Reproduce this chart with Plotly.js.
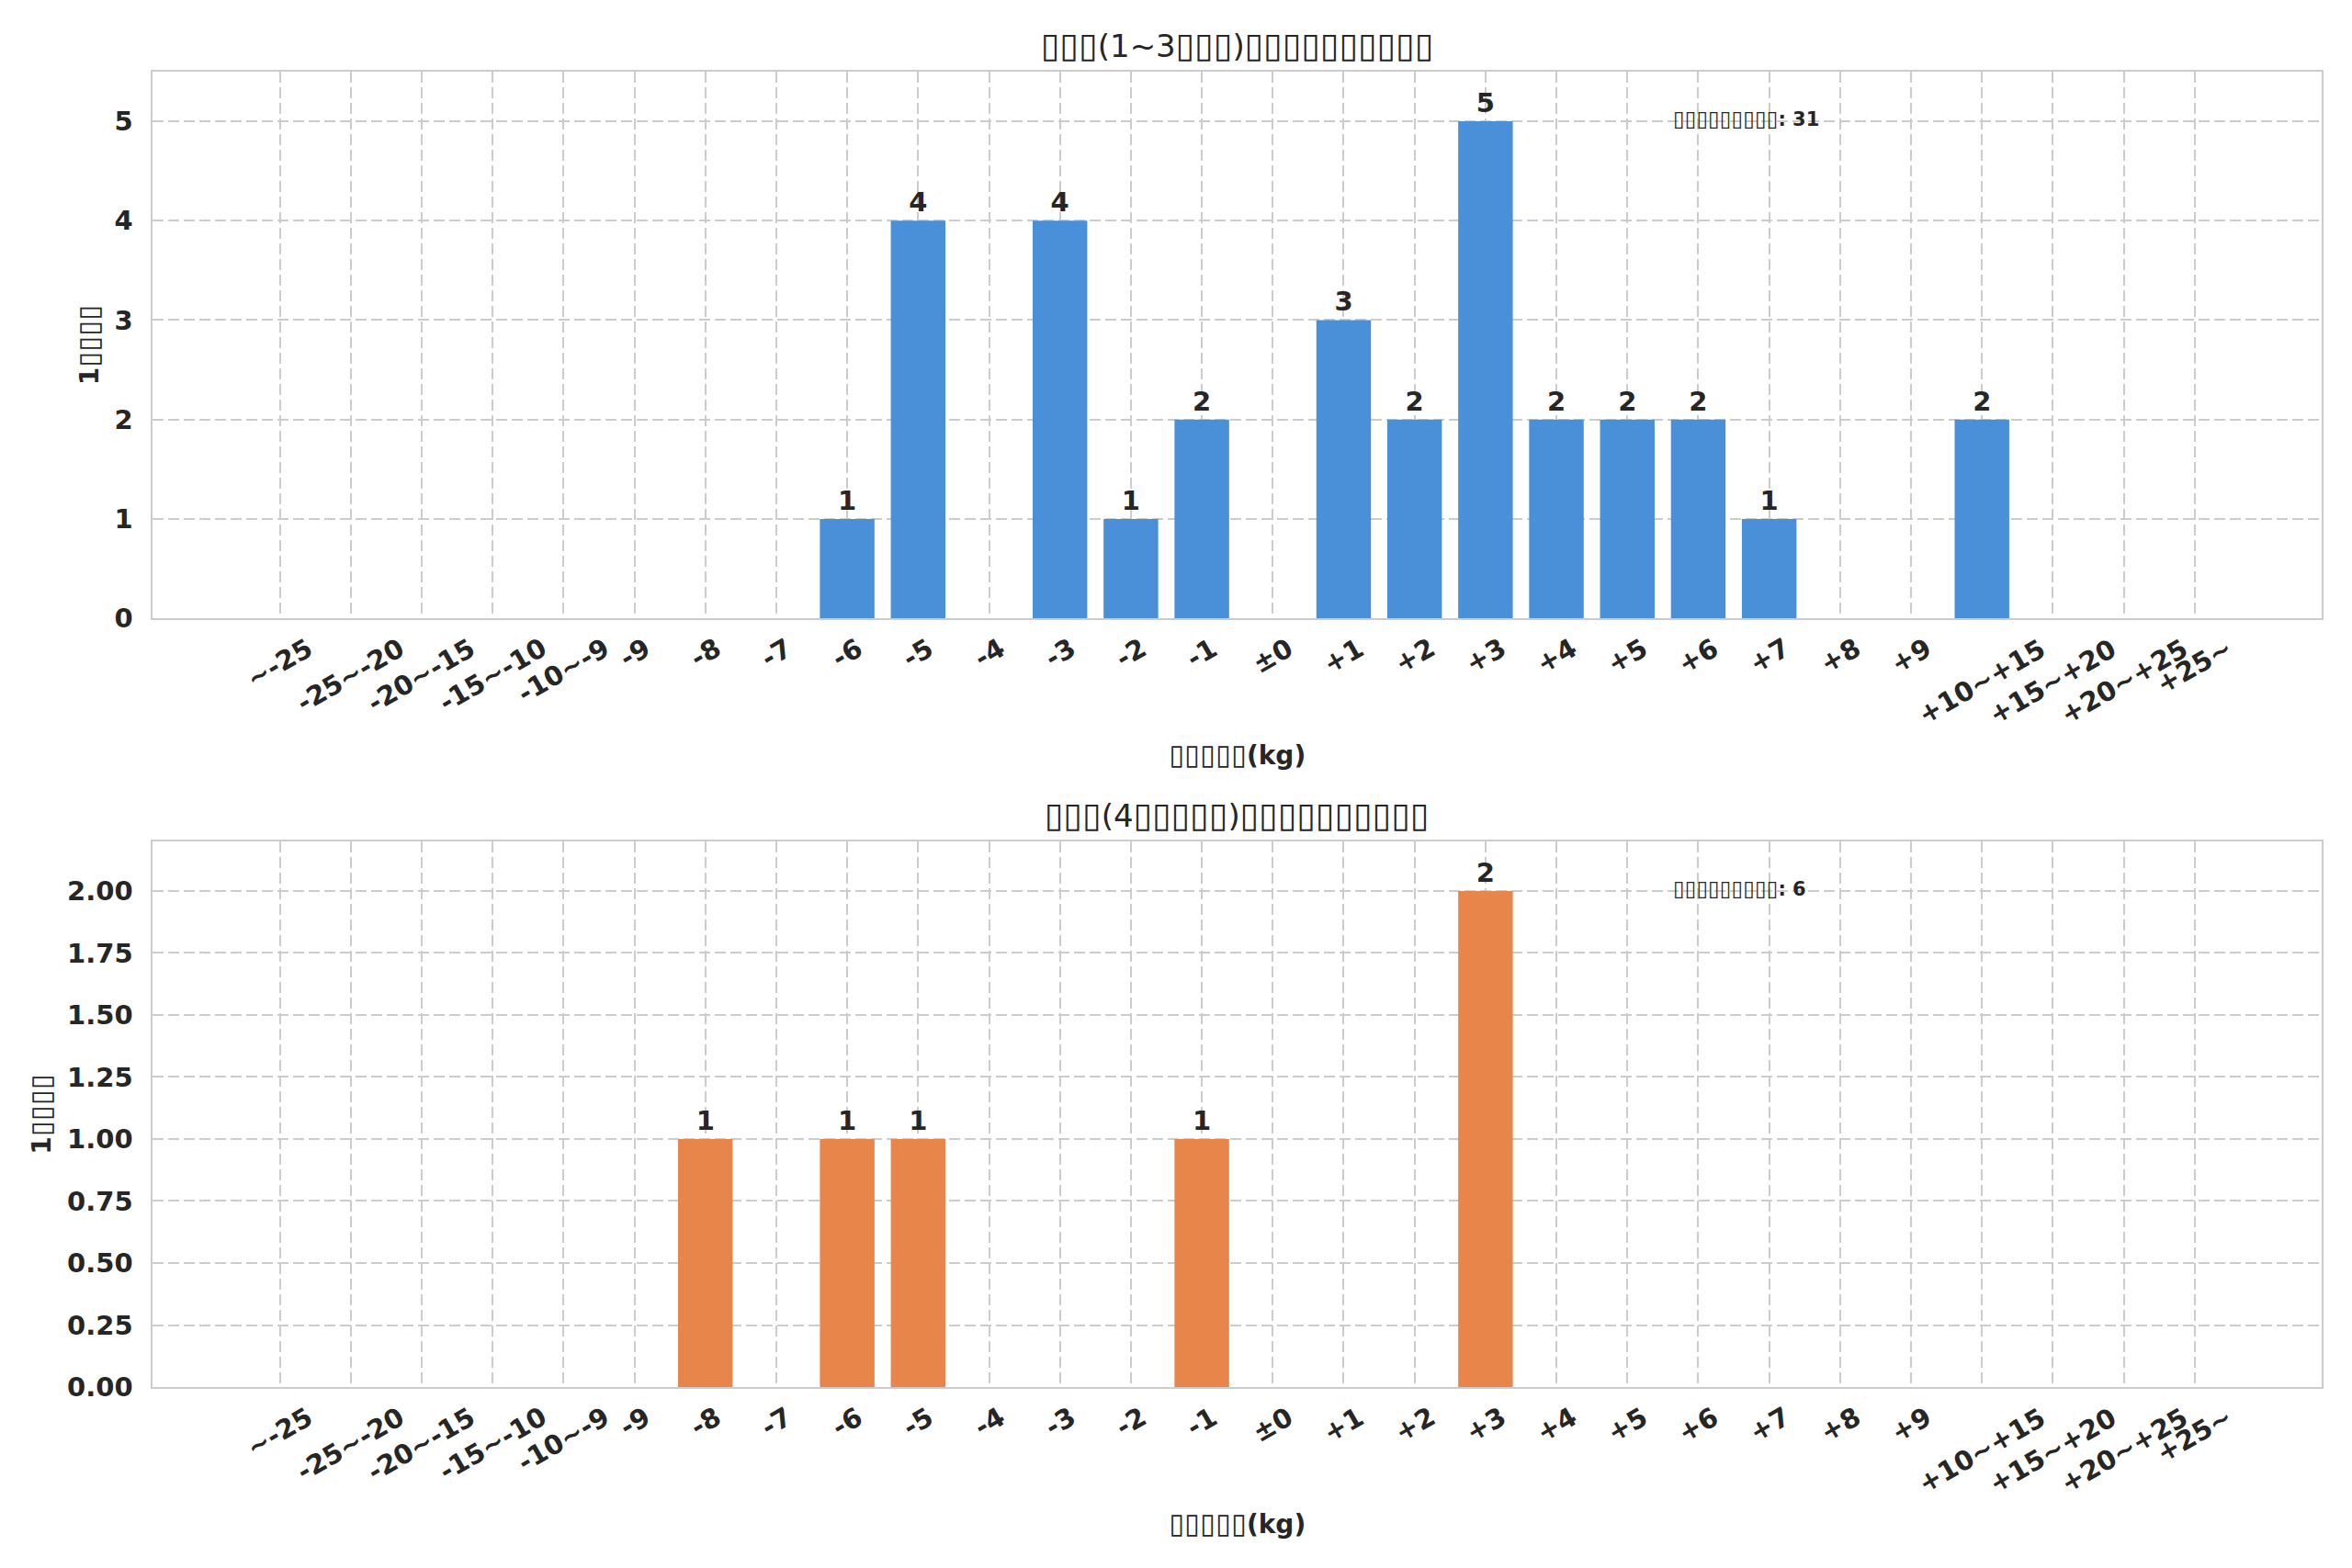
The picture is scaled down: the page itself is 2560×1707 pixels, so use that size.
<!DOCTYPE html>
<html>
<head>
<meta charset="utf-8">
<script src="https://cdn.plot.ly/plotly-3.0.1.min.js"></script>
<style>
  html, body { margin: 0; padding: 0; background: #fff; }
  #chart { width: 2560px; height: 1707px; }
</style>
</head>
<body>
<div id="chart"></div>
<script>
// weight change bins (kg)
const bins = [
    "~-25", "-25~-20", "-20~-15", "-15~-10", "-10~-9",
    "-9", "-8", "-7", "-6", "-5", "-4", "-3", "-2", "-1",
    "±0",
    "+1", "+2", "+3", "+4", "+5", "+6", "+7", "+8", "+9",
    "+10~+15", "+15~+20", "+20~+25", "+25~"
];

// counts per bin, upper panel (1~3) and lower panel (4...)
const countsEarly = [0, 0, 0, 0, 0, 0, 0, 0, 1, 4, 0, 4, 1, 2, 0, 3, 2, 5, 2, 2, 2, 1, 0, 0, 2, 0, 0, 0];
const countsLate  = [0, 0, 0, 0, 0, 0, 1, 0, 1, 1, 0, 0, 0, 1, 0, 0, 0, 2, 0, 0, 0, 0, 0, 0, 0, 0, 0, 0];

// the original labels are missing glyphs, drawn as boxes (n = number of boxes)
const box = n => '<span style="font-family:\'DejaVu Sans\';font-weight:normal;font-size:1.1em">' + "▯".repeat(n) + "</span>";
const titleEarly = box(3) + "(1~3" + box(3) + ")" + box(10);
const titleLate  = box(3) + "(4" + box(5) + ")" + box(10);
const xLabel = box(5) + "(kg)";
const yLabel = "1" + box(4);
const totalLabel = box(9);

const BLUE = "#4a90d9";
const ORANGE = "#e8854a";
const TEXT = "#262626";
const GRID = "#cccccc";

const sum = arr => arr.reduce((a, b) => a + b, 0);
const barText = arr => arr.map(v => v > 0 ? String(v) : "");

const barTrace = (values, color, xa, ya) => ({
    type: "bar",
    x: bins,
    y: values,
    xaxis: xa,
    yaxis: ya,
    width: 0.77,
    marker: { color: color, line: { width: 0 } },
    text: barText(values),
    textposition: "outside",
    cliponaxis: false,
    textfont: { family: "DejaVu Sans", size: 29, color: TEXT, weight: "bold" },
    hoverinfo: "skip",
    showlegend: false
});

const axisFont = { family: "DejaVu Sans", size: 28, color: TEXT, weight: "bold" };
const tickFont = { family: "DejaVu Sans", size: 29, color: TEXT, weight: "bold" };

const xAxis = (anchor) => ({
    anchor: anchor,
    type: "category",
    categoryorder: "array",
    categoryarray: bins,
    domain: [0.065, 0.9871],
    range: [-1.79, bins.length - 1 + 1.79],
    showticklabels: false,
    ticks: "",
    showgrid: true,
    gridcolor: GRID,
    gridwidth: 2,
    griddash: "12px,5px",
    showline: true,
    mirror: true,
    linecolor: GRID,
    linewidth: 2,
    zeroline: false,
    title: { text: xLabel, standoff: 138, font: axisFont }
});

const yAxis = (anchor, domain, range, dtick, fmt) => ({
    anchor: anchor,
    domain: domain,
    range: range,
    dtick: dtick,
    tick0: 0,
    tickformat: fmt,
    tickfont: tickFont,
    ticks: "",
    ticklabelstandoff: 14,
    showgrid: true,
    gridcolor: GRID,
    gridwidth: 2,
    griddash: "12px,5px",
    showline: true,
    mirror: true,
    linecolor: GRID,
    linewidth: 2,
    zeroline: false,
    title: { text: yLabel, standoff: 9, font: axisFont }
});

// category labels under each panel, centred on their bin like the original
const binLabels = (xa, ya) => bins.map((b, i) => ({
    text: b,
    xref: xa,
    yref: ya + " domain",
    x: i,
    y: 0,
    yshift: -14,
    xanchor: "center",
    yanchor: "top",
    textangle: -30,
    borderpad: 0,
    showarrow: false,
    font: tickFont
}));

const data = [
    barTrace(countsEarly, BLUE, "x", "y"),
    barTrace(countsLate, ORANGE, "x2", "y2")
];

const titleFont = { family: "DejaVu Sans", size: 34, color: TEXT };
const noteFont = { family: "DejaVu Sans", size: 21, color: TEXT, weight: "bold" };

const layout = {
    width: 2560,
    height: 1707,
    margin: { l: 0, r: 0, t: 0, b: 0 },
    paper_bgcolor: "#ffffff",
    plot_bgcolor: "#ffffff",
    xaxis: xAxis("y"),
    yaxis: yAxis("x", [0.6057, 0.9543], [0, 5.5], 1, "d"),
    xaxis2: xAxis("y2"),
    yaxis2: yAxis("x2", [0.1154, 0.4634], [0, 2.2], 0.25, ".2f"),
    annotations: [
        { text: titleEarly, xref: "paper", yref: "paper", x: 0.5261, y: 0.9713,
          xanchor: "center", yanchor: "middle", showarrow: false, font: titleFont },
        { text: titleLate, xref: "paper", yref: "paper", x: 0.5261, y: 0.4804,
          xanchor: "center", yanchor: "middle", showarrow: false, font: titleFont },
        { text: totalLabel + ": " + sum(countsEarly), xref: "x domain", yref: "y domain",
          x: 0.7, y: 0.914, xanchor: "left", yanchor: "middle", showarrow: false, font: noteFont },
        { text: totalLabel + ": " + sum(countsLate), xref: "x2 domain", yref: "y2 domain",
          x: 0.7, y: 0.914, xanchor: "left", yanchor: "middle", showarrow: false, font: noteFont }
    ].concat(binLabels("x", "y"), binLabels("x2", "y2"))
};

Plotly.newPlot("chart", data, layout, { staticPlot: true });
</script>
</body>
</html>
